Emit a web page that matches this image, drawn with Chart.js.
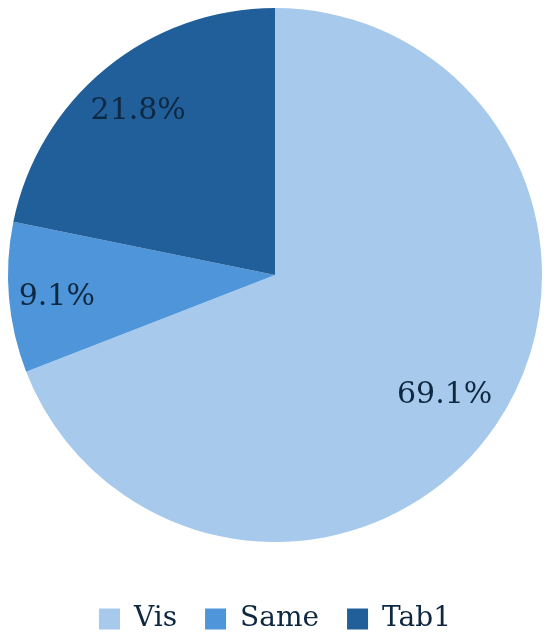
<!DOCTYPE html>
<html>
<head>
<meta charset="utf-8">
<script src="https://cdn.jsdelivr.net/npm/chart.js@4/dist/chart.umd.min.js"></script>
<style>
  html, body { margin: 0; padding: 0; background: #fff; }
  #wrap { width: 550px; height: 642px; }
</style>
</head>
<body>
<div id="wrap"><canvas id="pie"></canvas></div>
<script>
// Data
const categories = ['Vis', 'Same', 'Tab1'];
const shares = [69.1, 9.1, 21.8];
const sliceColors = ['#A6C9EC', '#4E95D9', '#215F9A'];
const labelText = ['69.1%', '9.1%', '21.8%'];

const serif = "'DejaVu Serif', 'Liberation Serif', serif";
// how far out (fraction of radius) each percentage sits
const labelRadius = [0.77, 0.82, 0.81];

// draws the percentage labels inside each slice
const sliceLabels = {
    id: 'sliceLabels',
    afterDatasetsDraw(chart) {
        const ctx = chart.ctx;
        const meta = chart.getDatasetMeta(0);
        ctx.save();
        ctx.fillStyle = '#0E2841';
        ctx.font = '30px ' + serif;
        ctx.textAlign = 'center';
        ctx.textBaseline = 'middle';
        meta.data.forEach((arc, i) => {
            const mid = (arc.startAngle + arc.endAngle) / 2;
            const r = arc.outerRadius * labelRadius[i];
            ctx.fillText(labelText[i], arc.x + Math.cos(mid) * r, arc.y + Math.sin(mid) * r + 4);
        });
        ctx.restore();
    }
};

// nudge the legend row down toward the bottom edge (pie keeps its size)
const legendNudge = {
    id: 'legendNudge',
    afterLayout(chart) {
        if (chart.legend) {
            chart.legend.top += 35;
            chart.legend.bottom += 35;
        }
    }
};

new Chart(document.getElementById('pie').getContext('2d'), {
    type: 'pie',
    data: {
        labels: categories,
        datasets: [{
            data: shares,
            backgroundColor: sliceColors,
            borderWidth: 0
        }]
    },
    options: {
        responsive: true,
        maintainAspectRatio: false,
        animation: false,
        layout: { padding: { top: 8, bottom: 34 } },
        plugins: {
            tooltip: { enabled: false },
            legend: {
                position: 'bottom',
                labels: {
                    color: '#0E2841',
                    font: { family: serif, size: 28 },
                    boxWidth: 21,
                    boxHeight: 21,
                    padding: 28
                }
            }
        }
    },
    plugins: [sliceLabels, legendNudge]
});
</script>
</body>
</html>
